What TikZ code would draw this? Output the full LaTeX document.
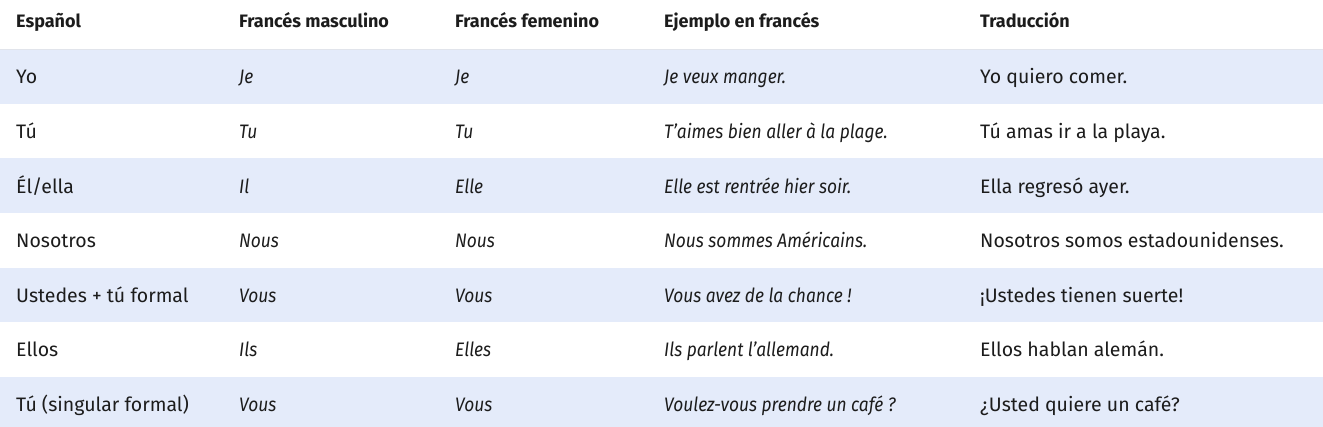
\documentclass[tikz,border=0pt]{standalone}
\usepackage{fontspec}
\setmainfont{Fira Sans}[ItalicFeatures={FakeStretch=0.89}]
\definecolor{rowblue}{RGB}{228,235,250}
\definecolor{txt}{RGB}{28,28,28}
\definecolor{hline}{RGB}{225,228,235}
\tikzset{
  cell/.style={anchor=base west, inner sep=0pt, text=txt, font=\fontsize{19.5}{22}\selectfont},
  head/.style={cell, font=\fontsize{18}{21}\selectfont\bfseries},
  it/.style={cell, font=\fontsize{19.5}{22}\selectfont\itshape},
}
\begin{document}
\begin{tikzpicture}[x=1pt,y=-1pt]
\useasboundingbox (0,0) rectangle (1323,427);
\fill[white] (0,0) rectangle (1323,427);
\foreach \a/\b in {50/104, 158/213, 268/322, 377/427}{
  \fill[rowblue] (0,\a) rectangle (1323,\b);
}
\draw[hline] (0,49.5) -- (1323,49.5);
\def\cA{16}\def\cB{239}\def\cC{455}\def\cD{664}\def\cE{980}
% header
\node[head] (h1) at (\cA,27.5) {Español};
\node[head] (h2) at (\cB,27.5) {Francés masculino};
\node[head] (h3) at (\cC,27.5) {Francés femenino};
\node[head] (h4) at (\cD,27.5) {Ejemplo en francés};
\node[head] (h5) at (\cE,27.5) {Traducción};
% rows
\foreach \y/\a/\b/\c/\d/\e [count=\i] in {
  84/Yo/Je/Je/Je veux manger./Yo quiero comer.,
  138.6/Tú/Tu/Tu/T’aimes bien aller à la plage./Tú amas ir a la playa.,
  193.2/Él{/}ella/Il/Elle/Elle est rentrée hier soir./Ella regresó ayer.,
  247.8/Nosotros/Nous/Nous/Nous sommes Américains./Nosotros somos estadounidenses.,
  302.4/Ustedes + tú formal/Vous/Vous/Vous avez de la chance !/¡Ustedes tienen suerte!,
  357/Ellos/Ils/Elles/Ils parlent l’allemand./Ellos hablan alemán.,
  411.6/Tú (singular formal)/Vous/Vous/Voulez-vous prendre un café ?/¿Usted quiere un café?}{
  \node[cell] (r\i a) at (\cA,\y) {\a};
  \node[it] (r\i b) at (\cB,\y) {\b};
  \node[it] (r\i c) at (\cC,\y) {\c};
  \node[it] (r\i d) at (\cD,\y) {\d};
  \node[cell] (r\i e) at (\cE,\y) {\e};
}
\end{tikzpicture}
\end{document}
